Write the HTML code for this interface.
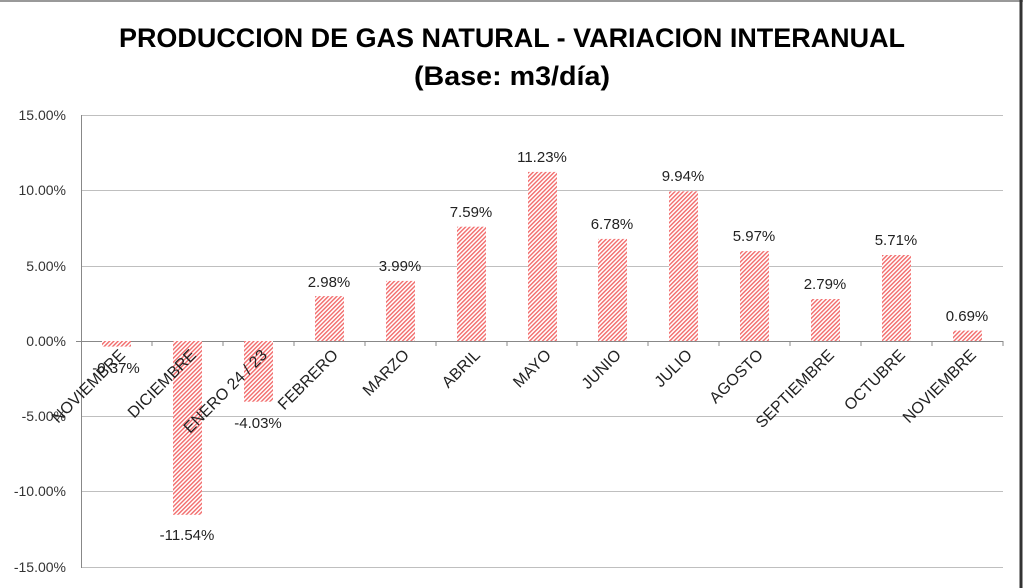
<!DOCTYPE html>
<html><head><meta charset="utf-8"><style>
html,body{margin:0;padding:0;background:#fff}
svg{display:block;font-family:"Liberation Sans",Calibri,sans-serif}
</style></head><body>
<svg width="1023" height="588" viewBox="0 0 1023 588" xmlns="http://www.w3.org/2000/svg">
<defs>
<pattern id="h" patternUnits="userSpaceOnUse" width="3" height="3" patternTransform="rotate(45)">
<rect width="3" height="3" fill="#fff"/>
<rect width="1.4" height="3" fill="#f26a6a"/>
</pattern>
</defs>
<rect x="0" y="0" width="1023" height="588" fill="#fff"/>
<line x1="0" y1="1" x2="1023" y2="1" stroke="#999" stroke-width="2"/>
<line x1="1021" y1="0" x2="1021" y2="588" stroke="#333" stroke-width="3"/>
<text x="512" y="47" font-size="27" font-weight="bold" text-anchor="middle" textLength="786" lengthAdjust="spacingAndGlyphs">PRODUCCION DE GAS NATURAL - VARIACION INTERANUAL</text>
<text x="512" y="85" font-size="27" font-weight="bold" text-anchor="middle" textLength="196" lengthAdjust="spacingAndGlyphs">(Base: m3/día)</text>
<g stroke="#bfbfbf" stroke-width="1">
<line x1="81" y1="115.5" x2="1003" y2="115.5"/>
<line x1="81" y1="190.5" x2="1003" y2="190.5"/>
<line x1="81" y1="266.5" x2="1003" y2="266.5"/>
<line x1="81" y1="416.5" x2="1003" y2="416.5"/>
<line x1="81" y1="491.5" x2="1003" y2="491.5"/>
<line x1="81" y1="567.5" x2="1003" y2="567.5"/>
</g>
<line x1="81.5" y1="115" x2="81.5" y2="568" stroke="#888"/>
<line x1="76" y1="341.5" x2="1003" y2="341.5" stroke="#888"/>
<g stroke="#888">
<line x1="152" y1="341" x2="152" y2="346"/><line x1="223" y1="341" x2="223" y2="346"/><line x1="294" y1="341" x2="294" y2="346"/><line x1="365" y1="341" x2="365" y2="346"/><line x1="436" y1="341" x2="436" y2="346"/><line x1="507" y1="341" x2="507" y2="346"/><line x1="577" y1="341" x2="577" y2="346"/><line x1="648" y1="341" x2="648" y2="346"/><line x1="719" y1="341" x2="719" y2="346"/><line x1="790" y1="341" x2="790" y2="346"/><line x1="861" y1="341" x2="861" y2="346"/><line x1="932" y1="341" x2="932" y2="346"/><line x1="1003" y1="341" x2="1003" y2="346"/>
</g>
<g font-size="14" fill="#333" text-anchor="end">
<text x="66" y="120">15.00%</text><text x="66" y="195">10.00%</text><text x="66" y="271">5.00%</text><text x="66" y="346">0.00%</text><text x="66" y="421">-5.00%</text><text x="66" y="496">-10.00%</text><text x="66" y="572">-15.00%</text>
</g>
<g fill="url(#h)">
<rect x="102" y="341" width="29" height="5.6"/>
<rect x="173" y="341" width="29" height="173.8"/>
<rect x="244" y="341" width="29" height="60.7"/>
<rect x="315" y="296.1" width="29" height="44.9"/>
<rect x="386" y="280.9" width="29" height="60.1"/>
<rect x="457" y="226.7" width="29" height="114.3"/>
<rect x="528" y="171.9" width="29" height="169.1"/>
<rect x="598" y="238.9" width="29" height="102.1"/>
<rect x="669" y="191.3" width="29" height="149.7"/>
<rect x="740" y="251.1" width="29" height="89.9"/>
<rect x="811" y="299" width="29" height="42"/>
<rect x="882" y="255" width="29" height="86"/>
<rect x="953" y="330.6" width="29" height="10.4"/>
</g>
<g font-size="15" fill="#222" text-anchor="middle">
<text x="116" y="373">-0.37%</text>
<text x="187" y="540">-11.54%</text>
<text x="258" y="428">-4.03%</text>
<text x="329" y="287">2.98%</text>
<text x="400" y="271">3.99%</text>
<text x="471" y="217">7.59%</text>
<text x="542" y="162">11.23%</text>
<text x="612" y="229">6.78%</text>
<text x="683" y="181">9.94%</text>
<text x="754" y="241">5.97%</text>
<text x="825" y="289">2.79%</text>
<text x="896" y="245">5.71%</text>
<text x="967" y="321">0.69%</text>
</g>
<g font-size="16" fill="#222" text-anchor="end">
<text transform="translate(126,356) rotate(-45)">NOVIEMBRE</text>
<text transform="translate(197,356) rotate(-45)">DICIEMBRE</text>
<text transform="translate(268,356) rotate(-45)">ENERO 24 / 23</text>
<text transform="translate(339,356) rotate(-45)">FEBRERO</text>
<text transform="translate(410,356) rotate(-45)">MARZO</text>
<text transform="translate(481,356) rotate(-45)">ABRIL</text>
<text transform="translate(552,356) rotate(-45)">MAYO</text>
<text transform="translate(622,356) rotate(-45)">JUNIO</text>
<text transform="translate(693,356) rotate(-45)">JULIO</text>
<text transform="translate(764,356) rotate(-45)">AGOSTO</text>
<text transform="translate(835,356) rotate(-45)">SEPTIEMBRE</text>
<text transform="translate(906,356) rotate(-45)">OCTUBRE</text>
<text transform="translate(977,356) rotate(-45)">NOVIEMBRE</text>
</g>
</svg>
</body></html>
